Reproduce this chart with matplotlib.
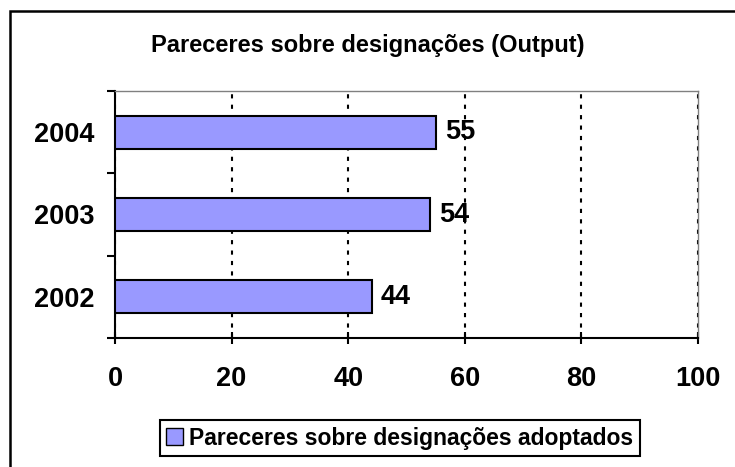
import matplotlib.pyplot as plt
from matplotlib.patches import Rectangle, Patch

plt.rcParams['font.family'] = 'Liberation Sans'
plt.rcParams['font.weight'] = 'bold'

anos = ["2002", "2003", "2004"]
pareceres = [44, 54, 55]
serie = "Pareceres sobre designações adoptados"
titulo = "Pareceres sobre designações (Output)"
xticks = [0, 20, 40, 60, 80, 100]

fig = plt.figure(figsize=(7.35, 4.67), dpi=100)
W, H = 735, 467
ax = fig.add_axes([115 / W, 1 - 338 / H, (698 - 115) / W, (338 - 91) / H])

pos = list(range(len(anos)))
barras = ax.barh(pos, pareceres, height=0.4, color="#9999FF",
                 edgecolor="black", linewidth=1.5, zorder=3)
for p, v in zip(pos, pareceres):
    ax.annotate(str(v), (v, p), xytext=(6.5, 0), textcoords="offset points",
                va="center", ha="left", fontsize=19.5, fontweight="bold", zorder=4)

ax.set_xlim(0, 100)
ax.set_ylim(-0.5, len(anos) - 0.5)
ax.set_xticks(xticks)
ax.set_xticklabels([str(t) for t in xticks], fontsize=19.5, fontweight="bold")
ax.tick_params(axis="x", direction="inout", length=9, width=1.5, pad=16)

# ticks do eixo y nas fronteiras, rotulos no centro
ax.set_yticks([i - 0.5 for i in range(len(anos) + 1)])
ax.set_yticklabels([])
ax.set_yticks(pos, minor=True)
ax.set_yticklabels(anos, minor=True, fontsize=19.5, fontweight="bold")
ax.tick_params(axis="y", which="major", direction="out", length=6, width=1.5)
ax.tick_params(axis="y", which="minor", length=0, pad=15)

ax.grid(True, axis="x", color="black", linestyle=(0, (2, 3)), linewidth=1.5, zorder=1)
ax.set_axisbelow(True)

for s in ["left", "bottom"]:
    ax.spines[s].set_linewidth(1.5)
    ax.spines[s].set_color("black")
for s in ["top", "right"]:
    ax.spines[s].set_linewidth(1)
    ax.spines[s].set_color("#808080")

fig.text(0.5, 1 - 45 / H, titulo, ha="center", va="center",
         fontsize=17, fontweight="bold")

leg = fig.legend(handles=[Patch(facecolor="#9999FF", edgecolor="black", linewidth=1, label=serie)],
                 loc="center", bbox_to_anchor=(400 / W, 1 - 438 / H),
                 fancybox=False, framealpha=1, edgecolor="black",
                 handlelength=0.7, handleheight=0.7, handletextpad=0.3, borderpad=0.3,
                 prop={"weight": "bold", "size": 16.5})
leg.get_frame().set_linewidth(1.5)

# moldura exterior (o lado direito e o de baixo ficam fora da imagem)
fig.patches.append(Rectangle((9.5 / W, -0.05), 1.05, 1.05 - 10.5 / H,
                             transform=fig.transFigure, fill=False,
                             edgecolor="black", linewidth=1.8))

fig.savefig("out.png", dpi=100)
